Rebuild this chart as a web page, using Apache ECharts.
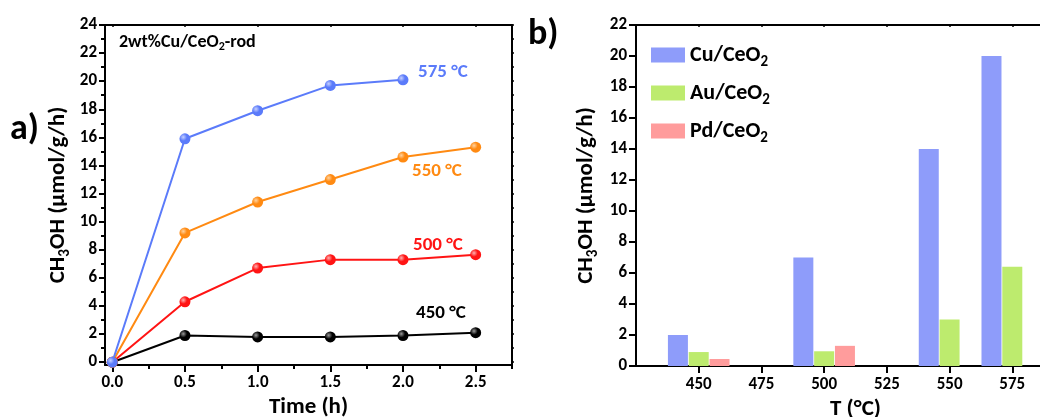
<!DOCTYPE html>
<html>
<head>
<meta charset="utf-8">
<script src="https://cdn.jsdelivr.net/npm/echarts@6/dist/echarts.min.js"></script>
<style>
  html, body { margin: 0; padding: 0; background: #fff; }
  #chart { width: 1040px; height: 417px; }
</style>
</head>
<body>
<div id="chart"></div>
<script>
  // Panel a) : CH3OH yield vs time for 2wt% Cu/CeO2-rod
  const timeTicks = [0, 0.5, 1.0, 1.5, 2.0, 2.5];
  const timeMinor = [0.25, 0.75, 1.25, 1.75, 2.25, 2.75];
  const yTicksA = [0, 2, 4, 6, 8, 10, 12, 14, 16, 18, 20, 22, 24];
  const yMinorA = [1, 3, 5, 7, 9, 11, 13, 15, 17, 19, 21, 23];
  const yAllA = [0, 1, 2, 3, 4, 5, 6, 7, 8, 9, 10, 11, 12, 13, 14, 15, 16, 17, 18, 19, 20, 21, 22, 23, 24];

  const t450 = [0, 0.5, 1.0, 1.5, 2.0, 2.5];
  const y450 = [0, 1.9, 1.8, 1.8, 1.9, 2.1];
  const t500 = [0, 0.5, 1.0, 1.5, 2.0, 2.5];
  const y500 = [0, 4.3, 6.7, 7.3, 7.3, 7.65];
  const t550 = [0, 0.5, 1.0, 1.5, 2.0, 2.5];
  const y550 = [0, 9.2, 11.4, 13.0, 14.6, 15.3];
  const t575 = [0, 0.5, 1.0, 1.5, 2.0];
  const y575 = [0, 15.9, 17.9, 19.7, 20.1];

  // Panel b) : CH3OH yield vs temperature for different metals
  const tempTicks = [450, 475, 500, 525, 550, 575];
  const cuT = [450, 500, 550, 575];
  const cuVal = [2.0, 7.0, 14.0, 20.0];
  const auT = [450, 500, 550, 575];
  const auVal = [0.9, 0.95, 3.0, 6.4];
  const pdT = [450, 500];
  const pdVal = [0.45, 1.3];

  const FONT = 'Carlito, Lato, "Open Sans", sans-serif';
  const zip = (xs, ys) => xs.map((x, i) => [x, ys[i]]);

  function ball(base, light) {
    return new echarts.graphic.RadialGradient(0.35, 0.35, 0.75, [
      { offset: 0, color: light },
      { offset: 0.45, color: base },
      { offset: 1, color: base }
    ]);
  }

  function lineSeries(name, data, color, light) {
    return {
      name: name, type: 'line', xAxisIndex: 0, yAxisIndex: 0,
      data: data, symbol: 'circle', symbolSize: 11,
      lineStyle: { color: color, width: 2 },
      itemStyle: { color: ball(color, light), borderWidth: 0 }
    };
  }

  const labelStyle = { fontFamily: FONT, fontWeight: 'bold', fontSize: 17, color: '#000' };
  const nameStyle = {
    fontFamily: FONT, fontWeight: 'bold', fontSize: 23, color: '#000',
    rich: {
      a: { fontFamily: FONT, fontWeight: 'bold', fontSize: 23, lineHeight: 29, verticalAlign: 'middle' },
      s: { fontFamily: FONT, fontWeight: 'bold', fontSize: 15, lineHeight: 15, verticalAlign: 'bottom' }
    }
  };
  const axisLine = { show: true, onZero: false, lineStyle: { color: '#000', width: 2 } };
  const noLine = { show: false, onZero: false };
  const yName = '{a|CH}{s|3}{a|OH (μmol/g/h)}';

  const option = {
    animation: false,
    backgroundColor: '#fff',
    grid: [
      { left: 105, top: 25, width: 407, height: 340, outerBoundsMode: 'none', containLabel: false },
      { left: 636, top: 25, width: 439, height: 341, outerBoundsMode: 'none', containLabel: false }
    ],
    xAxis: [
      { gridIndex: 0, type: 'value', position: 'bottom', min: -0.05, max: 2.75,
        axisLine: axisLine, splitLine: { show: false },
        axisTick: { show: true, customValues: timeTicks, length: 7, lineStyle: { width: 2 } },
        axisLabel: { customValues: timeTicks, margin: 9, ...labelStyle, formatter: v => v.toFixed(1) },
        name: 'Time (h)', nameLocation: 'middle', nameGap: 27, nameTextStyle: nameStyle },
      { gridIndex: 0, type: 'value', position: 'bottom', min: -0.05, max: 2.75,
        axisLine: noLine, splitLine: { show: false },
        axisTick: { show: true, customValues: timeMinor, length: 4, lineStyle: { width: 2, color: '#000' } },
        axisLabel: { show: false } },
      { gridIndex: 0, type: 'value', position: 'top', min: -0.05, max: 2.75,
        axisLine: axisLine, splitLine: { show: false },
        axisTick: { show: true, inside: true, customValues: timeTicks, length: 2, lineStyle: { width: 1.5 } },
        axisLabel: { show: false } },
      { gridIndex: 1, type: 'value', position: 'bottom', min: 425, max: 600,
        axisLine: axisLine, splitLine: { show: false },
        axisTick: { show: true, customValues: tempTicks, length: 7, lineStyle: { width: 2 } },
        axisLabel: { customValues: tempTicks, margin: 10, ...labelStyle },
        name: '{a|T (°C)}', nameLocation: 'middle', nameGap: 26, nameTextStyle: nameStyle },
      { gridIndex: 1, type: 'value', position: 'top', min: 425, max: 600,
        axisLine: axisLine, splitLine: { show: false },
        axisTick: { show: true, inside: true, customValues: tempTicks, length: 2, lineStyle: { width: 1.5 } },
        axisLabel: { show: false } }
    ],
    yAxis: [
      { gridIndex: 0, type: 'value', position: 'left', min: -0.2, max: 24,
        axisLine: axisLine, splitLine: { show: false },
        axisTick: { show: true, customValues: yTicksA, length: 6, lineStyle: { width: 2 } },
        axisLabel: { customValues: yTicksA, margin: 8, ...labelStyle },
        name: yName, nameLocation: 'middle', nameRotate: 90, nameGap: 32, nameTextStyle: nameStyle },
      { gridIndex: 0, type: 'value', position: 'left', min: -0.2, max: 24,
        axisLine: noLine, splitLine: { show: false },
        axisTick: { show: true, customValues: yMinorA, length: 4, lineStyle: { width: 2, color: '#000' } },
        axisLabel: { show: false } },
      { gridIndex: 0, type: 'value', position: 'right', min: -0.2, max: 24,
        axisLine: axisLine, splitLine: { show: false },
        axisTick: { show: true, customValues: yAllA, length: 2, lineStyle: { width: 1.5 } },
        axisLabel: { show: false } },
      { gridIndex: 1, type: 'value', position: 'left', min: 0, max: 22, interval: 2,
        axisLine: axisLine, splitLine: { show: false },
        axisTick: { show: true, length: 7, lineStyle: { width: 2 } },
        axisLabel: { margin: 9, ...labelStyle },
        name: yName, nameLocation: 'middle', nameRotate: 90, nameGap: 35, nameTextStyle: nameStyle }
    ],
    legend: {
      left: 646, top: 39, orient: 'vertical', itemWidth: 34, itemHeight: 15, itemGap: 12,
      icon: 'rect', data: ['Cu/CeO2', 'Au/CeO2', 'Pd/CeO2'],
      formatter: n => '{a|' + n.slice(0, -1) + '}{s|2}',
      textStyle: {
        color: '#000',
        rich: {
          a: { fontFamily: FONT, fontWeight: 'bold', fontSize: 22, lineHeight: 30, verticalAlign: 'middle', color: '#000' },
          s: { fontFamily: FONT, fontWeight: 'bold', fontSize: 15, lineHeight: 15, verticalAlign: 'bottom', color: '#000' }
        }
      }
    },
    graphic: [
      { type: 'text', left: 10, top: 112, style: { text: 'a)', fontFamily: FONT, fontWeight: 'bold', fontSize: 36, fill: '#000' } },
      { type: 'text', left: 528, top: 17, style: { text: 'b)', fontFamily: FONT, fontWeight: 'bold', fontSize: 36, fill: '#000' } },
      { type: 'text', left: 119, top: 33, style: {
          text: '{a|2wt%Cu/CeO}{s|2}{a|-rod}', fill: '#000',
          rich: {
            a: { fontFamily: FONT, fontWeight: 'bold', fontSize: 18, lineHeight: 22, verticalAlign: 'middle' },
            s: { fontFamily: FONT, fontWeight: 'bold', fontSize: 12, lineHeight: 12, verticalAlign: 'bottom' }
          } } },
      { type: 'text', left: 418, top: 63, style: { text: '575 °C', fontFamily: FONT, fontWeight: 'bold', fontSize: 19, fill: '#5b7bfa' } },
      { type: 'text', left: 412, top: 162, style: { text: '550 °C', fontFamily: FONT, fontWeight: 'bold', fontSize: 19, fill: '#ff8a12' } },
      { type: 'text', left: 413, top: 236, style: { text: '500 °C', fontFamily: FONT, fontWeight: 'bold', fontSize: 19, fill: '#ff1414' } },
      { type: 'text', left: 416, top: 304, style: { text: '450 °C', fontFamily: FONT, fontWeight: 'bold', fontSize: 19, fill: '#000' } }
    ],
    series: [
      lineSeries('450', zip(t450, y450), '#000000', '#9a9a9a'),
      lineSeries('500', zip(t500, y500), '#ff1414', '#ffb0b0'),
      lineSeries('550', zip(t550, y550), '#ff8a12', '#ffd3a0'),
      lineSeries('575', zip(t575, y575), '#5b7bfa', '#c5d0ff'),
      { name: 'Cu/CeO2', type: 'bar', xAxisIndex: 3, yAxisIndex: 3, barWidth: 20, barGap: '4%',
        data: zip(cuT, cuVal), itemStyle: { color: '#8e9cfa' } },
      { name: 'Au/CeO2', type: 'bar', xAxisIndex: 3, yAxisIndex: 3, barWidth: 20, barGap: '4%',
        data: zip(auT, auVal), itemStyle: { color: '#bdeb6e' } },
      { name: 'Pd/CeO2', type: 'bar', xAxisIndex: 3, yAxisIndex: 3, barWidth: 20, barGap: '4%',
        data: zip(pdT, pdVal), itemStyle: { color: '#ff9c9c' } }
    ]
  };

  echarts.init(document.getElementById('chart'), null, { renderer: 'canvas' }).setOption(option);
</script>
</body>
</html>
